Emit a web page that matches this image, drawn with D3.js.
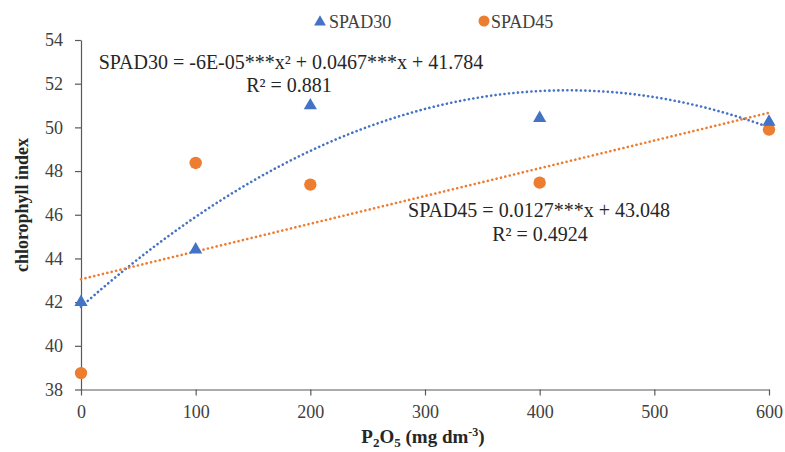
<!DOCTYPE html>
<html><head><meta charset="utf-8">
<script src="https://cdn.jsdelivr.net/npm/d3@7"></script>
<style>body{margin:0;background:#fff}svg{display:block}</style>
</head><body>
<svg id="c" width="785" height="452"></svg>
<script>
const doses = [0, 100, 200, 400, 600];
const spad30 = [42.0, 44.4, 51.0, 50.42, 50.25];
const spad45 = [38.75, 48.37, 47.38, 47.47, 49.9];
const xTicks = [0, 100, 200, 300, 400, 500, 600];
const yTicks = [38, 40, 42, 44, 46, 48, 50, 52, 54];
// trendline coefficients (a x^2 + b x + c)
const fit30 = [-5.5e-5, 0.0467, 41.784];
const fit45 = [0, 0.0127, 43.048];

const svg = d3.select("#c");
const serif = "'Liberation Serif','Times New Roman',serif";
const x = d3.scaleLinear().domain([0, 600]).range([81, 769]);
const y = d3.scaleLinear().domain([38, 54]).range([389.5, 40]);
const blue = "#4472C4", orange = "#ED7D31", axisCol = "#595959";

const xa = svg.append("g").attr("transform", "translate(0,389.5)")
  .call(d3.axisBottom(x).tickValues(xTicks).tickSize(6).tickSizeOuter(0).tickPadding(10));
const ya = svg.append("g").attr("transform", "translate(81,0)")
  .call(d3.axisLeft(y).tickValues(yTicks).tickSize(6).tickSizeOuter(0).tickPadding(12));
[xa, ya].forEach(a => {
  a.selectAll("path,line").attr("stroke", axisCol).attr("stroke-width", 1.2);
  a.selectAll("text").attr("font-family", serif).attr("font-size", 18).attr("fill", "#404040");
});

// trendlines
const xs = d3.range(0, 601, 5);
const line = d3.line().x(d => x(d[0])).y(d => y(d[1])).curve(d3.curveLinear);
function trend(f, col) {
  svg.append("path").datum(xs.map(v => [v, f[0]*v*v + f[1]*v + f[2]]))
    .attr("d", line).attr("fill", "none").attr("stroke", col)
    .attr("stroke-width", 2.6).attr("stroke-linecap", "round")
    .attr("stroke-dasharray", "0.1 4.4");
}
trend(fit30, blue);
trend(fit45, orange);

// markers
const tri = d3.symbol().type(d3.symbolTriangle).size(75);
svg.selectAll(".p45").data(doses).join("circle")
  .attr("cx", (d) => x(d)).attr("cy", (d, i) => y(spad45[i])).attr("r", 6.2).attr("fill", orange);
svg.selectAll(".p30").data(doses).join("path")
  .attr("d", tri).attr("fill", blue)
  .attr("transform", (d, i) => `translate(${x(d)},${y(spad30[i])})`);

// legend
svg.append("path").attr("d", d3.symbol().type(d3.symbolTriangle).size(60)).attr("fill", blue)
  .attr("transform", "translate(320,22)");
svg.append("text").attr("x", 329).attr("y", 28).text("SPAD30")
  .attr("font-family", serif).attr("font-size", 18).attr("fill", "#404040");
svg.append("circle").attr("cx", 484).attr("cy", 21).attr("r", 5.5).attr("fill", orange);
svg.append("text").attr("x", 491).attr("y", 28).text("SPAD45")
  .attr("font-family", serif).attr("font-size", 18).attr("fill", "#404040");

// equations
function label(tx, ty, s) {
  svg.append("text").attr("x", tx).attr("y", ty).attr("text-anchor", "middle")
    .attr("font-family", serif).attr("font-size", 20).attr("fill", "#262626").text(s);
}
label(291, 69, "SPAD30 = -6E-05***x² + 0.0467***x + 41.784");
label(289, 92, "R² = 0.881");
label(539, 217, "SPAD45 = 0.0127***x + 43.048");
label(540, 241, "R² = 0.4924");

// axis titles
svg.append("text").attr("transform", "translate(28,205) rotate(-90)").attr("text-anchor", "middle")
  .attr("font-family", serif).attr("font-size", 18).attr("font-weight", "bold").attr("fill", "#262626")
  .text("chlorophyll index");
const xt = svg.append("text").attr("x", 423).attr("y", 443).attr("text-anchor", "middle")
  .attr("font-family", serif).attr("font-size", 19).attr("font-weight", "bold").attr("fill", "#262626");
xt.append("tspan").text("P");
xt.append("tspan").attr("font-size", 13).attr("dy", 4).text("2");
xt.append("tspan").attr("dy", -4).text("O");
xt.append("tspan").attr("font-size", 13).attr("dy", 4).text("5");
xt.append("tspan").attr("dy", -4).text(" (mg dm");
xt.append("tspan").attr("font-size", 12).attr("dy", -7).text("-3");
xt.append("tspan").attr("dy", 7).text(")");
</script>
</body></html>
